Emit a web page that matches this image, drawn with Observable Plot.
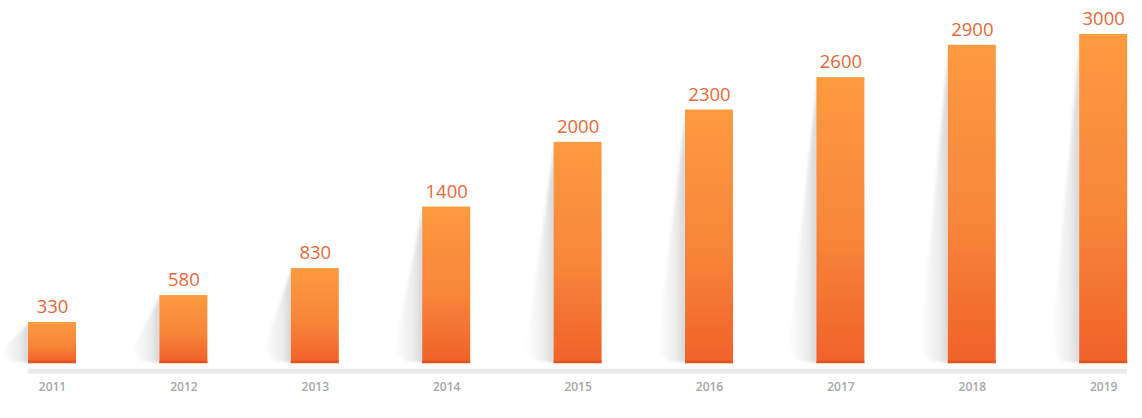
<!DOCTYPE html>
<html>
<head>
<meta charset="utf-8">
<script src="https://cdn.jsdelivr.net/npm/d3@7"></script>
<script src="https://cdn.jsdelivr.net/npm/@observablehq/plot@0.6"></script>
<style>
  html, body { margin: 0; padding: 0; background: #ffffff; }
  #chart svg { display: block; }
</style>
</head>
<body>
<div id="chart"></div>
<script>
// ---- data ----
const years = ["2011", "2012", "2013", "2014", "2015", "2016", "2017", "2018", "2019"];
const values = [330, 580, 830, 1400, 2000, 2300, 2600, 2900, 3000];
const yDomain = [-47, 3000];

const data = years.map((year, i) => ({year, value: values[i]}));
const base = yDomain[0];

const W = 1142, H = 418;
const step = 131.4;
const firstCenter = 52;

const chart = Plot.plot({
  width: W,
  height: H,
  marginTop: 34,
  marginBottom: 55.3,
  marginLeft: 28,
  marginRight: 15,
  style: {background: "#ffffff", fontFamily: "'Open Sans', 'Noto Sans', sans-serif", overflow: "visible"},
  x: {
    type: "band",
    domain: years,
    range: [firstCenter - step / 2, firstCenter - step / 2 + step * years.length],
    paddingInner: 0.635,
    paddingOuter: 0.3175,
    align: 0.5,
    round: false,
    label: null
  },
  y: {domain: yDomain, axis: null},
  marks: [
    Plot.ruleY([base], {dy: 8, stroke: "#ebebeb", strokeWidth: 5}),
    Plot.barY(data, {x: "year", y1: () => base, y2: "value", fill: "url(#barGrad)"}),
    Plot.tickY(data, {x: "year", y: () => base, stroke: "#e0531e", strokeWidth: 2.5, dy: -1.25}),
    Plot.text(data, {
      x: "year", y: "value", text: d => String(d.value),
      dy: -9.5, lineAnchor: "bottom", fill: "#e8683a", fontSize: 18.5,
      fontFamily: "'Open Sans', 'Noto Sans', sans-serif"
    }),
    Plot.axisX({
      tickSize: 0, tickPadding: 19, fontSize: 12, fill: "#a8a8a8",
      fontWeight: 600, label: null
    })
  ]
});

document.getElementById("chart").appendChild(chart);

// gradients
const svg = d3.select(chart);
const defs = svg.insert("defs", ":first-child");
const bg = defs.append("linearGradient").attr("id", "barGrad")
  .attr("x1", 0).attr("y1", 0).attr("x2", 0).attr("y2", 1);
bg.append("stop").attr("offset", "0%").attr("stop-color", "#fd9a40");
bg.append("stop").attr("offset", "55%").attr("stop-color", "#f8863a");
bg.append("stop").attr("offset", "100%").attr("stop-color", "#f0612a");

const sg = defs.append("linearGradient").attr("id", "shadowGrad")
  .attr("x1", 1).attr("y1", 0).attr("x2", 0).attr("y2", 0);
sg.append("stop").attr("offset", "0%").attr("stop-color", "#000").attr("stop-opacity", 0.17);
sg.append("stop").attr("offset", "35%").attr("stop-color", "#000").attr("stop-opacity", 0.07);
sg.append("stop").attr("offset", "100%").attr("stop-color", "#000").attr("stop-opacity", 0);

const blur = defs.append("filter").attr("id", "shadowBlur")
  .attr("x", "-50%").attr("y", "-20%").attr("width", "200%").attr("height", "140%");
blur.append("feGaussianBlur").attr("stdDeviation", 1.6);

// shadows drawn through the plot's own scales, behind the bars
const xs = chart.scale("x");
const ys = chart.scale("y");
const firstG = chart.querySelector("g[aria-label='bar']");
const shadowG = document.createElementNS("http://www.w3.org/2000/svg", "g");
shadowG.setAttribute("filter", "url(#shadowBlur)");
chart.insertBefore(shadowG, firstG);
data.forEach(d => {
  const left = xs.apply(d.year);
  const top = ys.apply(d.value);
  const bottom = ys.apply(base);
  const h = bottom - top;
  const w = 28;
  const pts = [
    [left + 1, top + 1],
    [left - w, bottom - Math.min(12, h * 0.25)],
    [left - w * 0.6, bottom - 2],
    [left + 1, bottom]
  ];
  const p = document.createElementNS("http://www.w3.org/2000/svg", "polygon");
  p.setAttribute("points", pts.map(q => q.join(",")).join(" "));
  p.setAttribute("fill", "url(#shadowGrad)");
  shadowG.appendChild(p);
});
</script>
</body>
</html>
